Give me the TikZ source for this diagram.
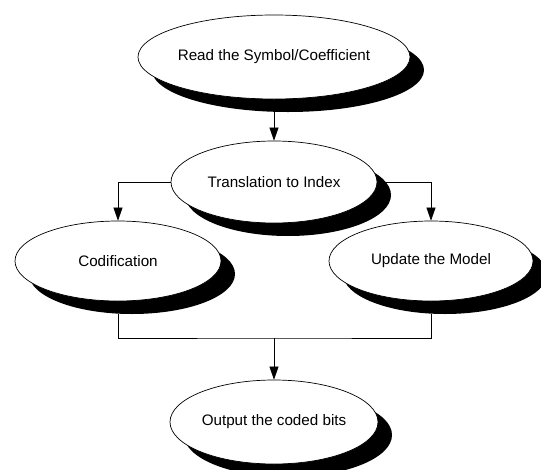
\documentclass[tikz,border=0pt]{standalone}
\usepackage{fontspec}
\setmainfont{Liberation Sans}
\usetikzlibrary{shapes.geometric,shadows,arrows.meta}

\tikzset{
  stage/.style={ellipse, draw=black, line width=0.7pt, fill=white,
    minimum width=206pt, minimum height=82pt, inner sep=0pt,
    font=\fontsize{15.2}{18}\selectfont,
    drop shadow={shadow xshift=14pt, shadow yshift=-13pt, opacity=1, fill=black}},
  flow/.style={line width=0.6pt, -{Triangle[length=13pt,width=9pt]}},
  link/.style={line width=0.6pt}
}

\begin{document}
\begin{tikzpicture}[x=1pt,y=-1pt]
	\useasboundingbox (0,0) rectangle (541,469);
	% the five steps
	\node[stage, minimum width=214pt, minimum height=84pt] (read) at (274,57) {Read the Symbol/Coefficient};
	\node[stage] (trans) at (274,182) {Translation to Index};
	\node[stage, minimum height=80pt] (codif) at (118,261) {Codification};
	\node[stage, minimum width=204pt, minimum height=80pt] (update) at (431,261) {Update the Model};
	\node[stage, minimum width=208pt, minimum height=84pt] (output) at (274,422) {Output the coded bits};
	\coordinate (join) at (274,338);
	% connectors
	\draw[flow] ([yshift=-13pt]read.south) -- (trans.north);
	\draw[flow] (trans.west) -| (codif.north);
	\draw[flow] (trans.east) -| (update.north);
	\draw[link] ([yshift=-13pt]codif.south) |- (join) -| ([yshift=-13pt]update.south);
	\draw[flow] (join) -- (output.north);
\end{tikzpicture}
\end{document}
